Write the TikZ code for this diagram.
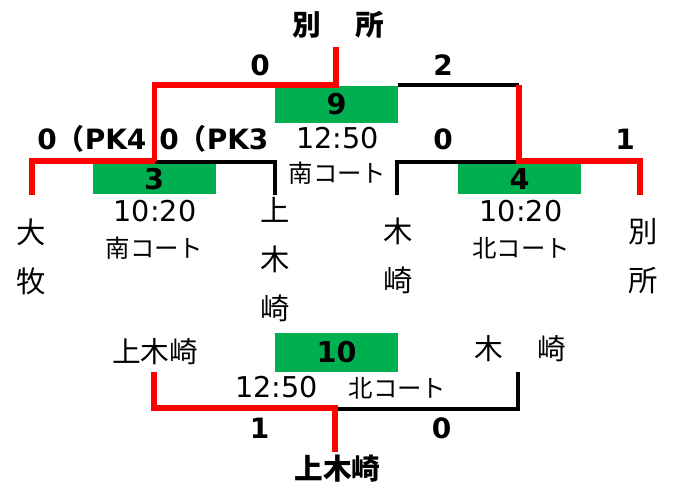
\documentclass[tikz,border=0pt]{standalone}
\usepackage{fontspec}
\setmainfont{DejaVu Sans}
\newfontfamily\jp{Noto Sans CJK JP}
\definecolor{xgreen}{HTML}{00B050}
\begin{document}
\begin{tikzpicture}[x=0.75pt,y=-0.75pt,
  winline/.style={draw=red, line width=4.3pt},
  loseline/.style={draw=black, line width=3pt},
  gbox/.style={fill=xgreen, inner sep=0pt, minimum width=92.25pt, font=\fontsize{21.5}{24}\selectfont\bfseries},
  score/.style={inner sep=0pt, font=\fontsize{21}{24}\selectfont\bfseries},
  timet/.style={inner sep=0pt, font=\fontsize{21.5}{24}\selectfont},
  court/.style={inner sep=0pt, font=\jp\fontsize{18.3}{20}\selectfont},
  team/.style={inner sep=0pt, font=\jp\fontsize{21.5}{24}\selectfont},
  teamb/.style={inner sep=0pt, font=\jp\bfseries\fontsize{21.5}{24}\selectfont},
  vteam/.style={inner sep=0pt, align=center, font=\jp\fontsize{22}{36.75}\selectfont},
]
\useasboundingbox (0,0) rectangle (673,486);
% green boxes
\node[gbox, minimum height=27.75pt] (g9) at (336.5,104.5) {9};
\node[gbox, minimum height=22.5pt] (g3) at (154,179) {3};
\node[gbox, minimum height=22.5pt] (g4) at (519.5,179) {4};
\node[gbox, minimum height=29.25pt] (g10) at (336.5,352.5) {10};
% bracket corners
\coordinate (top) at (336,47);
\coordinate (tm) at (336,85);
\coordinate (tl) at (154.5,85);
\coordinate (tr) at (519,85);
\coordinate (tbl) at (398,85);
\coordinate (ml) at (154.5,161);
\coordinate (mlb) at (154.5,162);
\coordinate (mll) at (32,161);
\coordinate (mlld) at (32,195);
\coordinate (mlr) at (275,162);
\coordinate (mlrd) at (275,195);
\coordinate (mr) at (519,161);
\coordinate (mrb) at (519,162);
\coordinate (mrl) at (397,162);
\coordinate (mrld) at (397,195);
\coordinate (mrr) at (640,161);
\coordinate (mrrd) at (640,195);
\coordinate (bl) at (154,372);
\coordinate (blc) at (154,408);
\coordinate (bc) at (335,408);
\coordinate (bcb) at (335,409);
\coordinate (bcd) at (335,452);
\coordinate (brc) at (518,409);
\coordinate (br) at (518,372);
% lines
\draw[loseline] (tbl) -- (tr);
\draw[loseline] (mlb) -- (mlr) -- (mlrd);
\draw[loseline] (mrb) -- (mrl) -- (mrld);
\draw[loseline] (bcb) -- (brc) -- (br);
\draw[winline] (top) -- (tm) -- (tl) -- (ml);
\draw[winline] (mlld) -- (mll) -- (ml);
\draw[winline] (tr) -- (mr) -- (mrr) -- (mrrd);
\draw[winline] (bl) -- (blc) -- (bc) -- (bcd);
% texts top
\node[teamb] (champ1) at (338,25) {別　\kern4pt所};
\node[score] (s0a) at (260,65) {0};
\node[score] (s2) at (443,65) {2};
\node[score, anchor=west] (pk4) at (37,139) {0{\jp（}PK4};
\node[score, anchor=west] (pk3) at (159,139) {0{\jp（}PK3};
\node[score] (s0b) at (443,139) {0};
\node[score] (s1a) at (625,139) {1};
\node[timet] (t9) at (337.5,138.5) {12:50};
\node[court] (c9) at (337.5,173) {南コート};
\node[timet] (t3) at (155,211) {10:20};
\node[court] (c3) at (154.5,248) {南コート};
\node[timet] (t4) at (521,211) {10:20};
\node[court] (c4) at (521,248) {北コート};
% vertical team names
\node[vteam] (ohmaki) at (31.5,256.5) {大\\牧};
\node[vteam] (kamikizaki) at (275,260) {上\\木\\崎};
\node[vteam] (kizaki) at (398,256) {木\\崎};
\node[vteam] (bessho) at (643,256) {別\\所};
% bottom
\node[team] (kk) at (155,351.5) {上木崎};
\node[team] (kz) at (520,348.5) {木　\kern4pt崎};
\node[timet] (t10) at (276.5,387) {12:50};
\node[court] (c10) at (397.5,388) {北コート};
\node[score] (s1b) at (259.5,428) {1};
\node[score] (s0c) at (441.5,428) {0};
\node[teamb] (champ2) at (337.5,468.5) {上木崎};
\end{tikzpicture}
\end{document}
